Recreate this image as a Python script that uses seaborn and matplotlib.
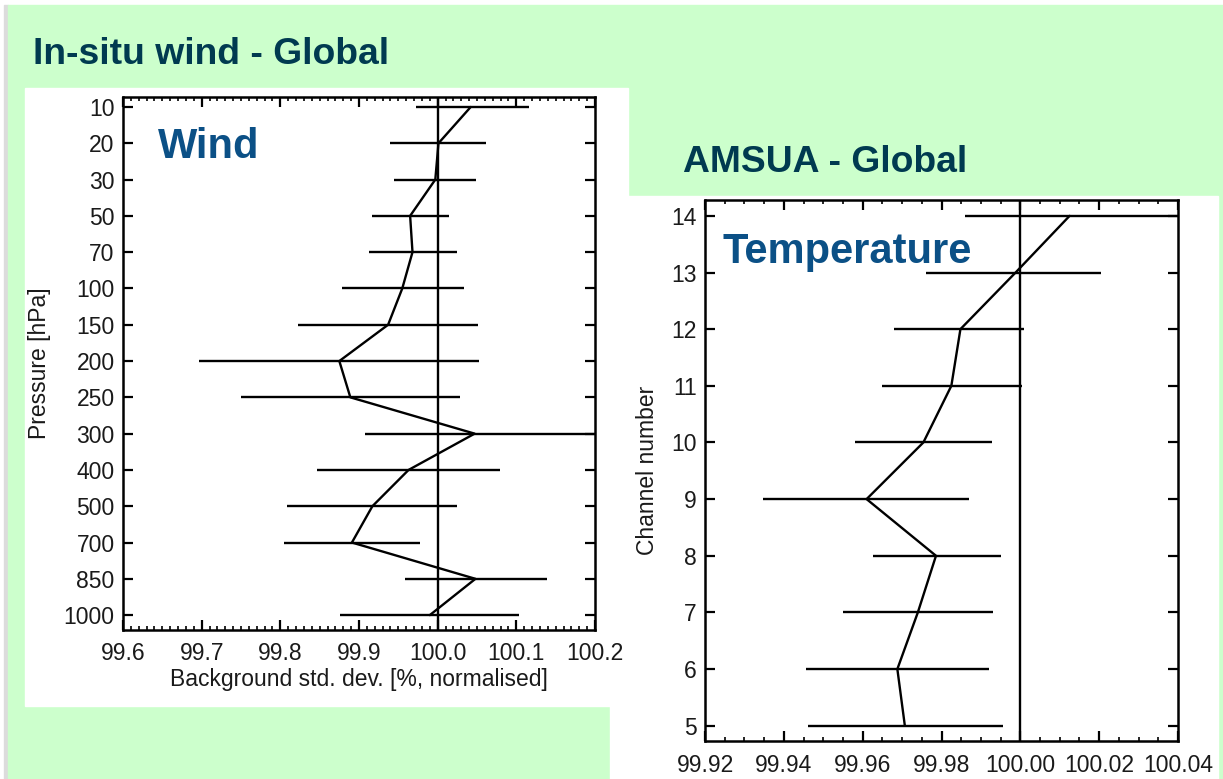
import numpy as np
import matplotlib
matplotlib.use("Agg")
import matplotlib.pyplot as plt
import seaborn as sns
from matplotlib.patches import Rectangle
from matplotlib.ticker import MultipleLocator, FormatStrFormatter

# In-situ wind: pressure levels, normalised std dev and error bar ends
niveles = ["10", "20", "30", "50", "70", "100", "150", "200", "250",
           "300", "400", "500", "700", "850", "1000"]
viento = [100.042, 100.001, 99.997, 99.965, 99.968, 99.955, 99.937, 99.875,
          99.889, 100.047, 99.963, 99.917, 99.891, 100.048, 99.990]
viento_min = [99.972, 99.940, 99.945, 99.916, 99.913, 99.879, 99.823, 99.697,
              99.750, 99.907, 99.847, 99.808, 99.805, 99.959, 99.876]
viento_max = [100.116, 100.062, 100.049, 100.014, 100.024, 100.033, 100.051,
              100.052, 100.029, 100.210, 100.079, 100.024, 99.977, 100.139, 100.103]

# AMSU-A: channels, normalised std dev and error bar ends
canales = [5, 6, 7, 8, 9, 10, 11, 12, 13, 14]
temperatura = [99.9707, 99.9688, 99.9740, 99.9786, 99.9610, 99.9754,
               99.9825, 99.9848, 99.9988, 100.0125]
temp_min = [99.9461, 99.9455, 99.9550, 99.9627, 99.9346, 99.9580,
            99.9650, 99.9680, 99.9760, 99.9860]
temp_max = [99.9956, 99.9920, 99.9930, 99.9952, 99.9869, 99.9928,
            100.0003, 100.0010, 100.0205, 100.0450]

VERDE = "#ccffcc"
TITULO = "#003a50"
AZUL = "#0b5086"

sns.set_style("ticks")
plt.rcParams["font.family"] = ["Liberation Sans", "DejaVu Sans"]

W, H = 1223, 779
fig = plt.figure(figsize=(W / 100, H / 100), dpi=100)


def caja(x0, y0, x1, y1, color):
    # rectangle given in pixels from the top-left corner
    fig.patches.append(Rectangle((x0 / W, 1 - y1 / H), (x1 - x0) / W, (y1 - y0) / H,
                                 transform=fig.transFigure, color=color, zorder=-10))


caja(4, 5, 8, H, "#dcdcdc")
caja(8, 5, W, H, VERDE)
caja(25, 88, 628, 706, "white")
caja(610, 196, 1218, H, "white")

fig.text(33 / W, 1 - 64 / H, "In-situ wind - Global", fontsize=26.8,
         fontweight="bold", color=TITULO, va="baseline")
fig.text(683 / W, 1 - 172 / H, "AMSUA - Global", fontsize=26.8,
         fontweight="bold", color=TITULO, va="baseline")


def estilo(ax, menor):
    for s in ax.spines.values():
        s.set_linewidth(1.8)
        s.set_color("black")
    ax.tick_params(which="both", direction="in", top=True, right=True,
                   color="black", labelsize=16.5, labelcolor="#1a1a1a", pad=9)
    ax.tick_params(axis="y", pad=6)
    ax.tick_params(which="major", length=7.5, width=1.6)
    ax.tick_params(which="minor", length=3, width=1.2)
    ax.xaxis.set_minor_locator(MultipleLocator(menor))
    ax.tick_params(axis="y", which="minor", left=False, right=False)
    ax.set_facecolor("white")


# ---- Wind panel
ax1 = fig.add_axes([123 / W, 1 - 630 / H, 472 / W, 533 / H])
pos = np.arange(len(niveles))
ax1.axvline(100.0, color="black", lw=1.7, zorder=1)
ax1.hlines(pos, viento_min, viento_max, color="black", lw=1.7, zorder=2)
sns.lineplot(x=viento, y=pos, sort=False, orient="y", estimator=None,
             color="black", lw=1.7, ax=ax1, zorder=3)
ax1.set_xlim(99.6, 100.2)
ax1.set_ylim(len(niveles) - 1 + 0.41, -0.275)
ax1.set_yticks(pos)
ax1.set_yticklabels(niveles)
ax1.xaxis.set_major_locator(MultipleLocator(0.1))
ax1.xaxis.set_major_formatter(FormatStrFormatter("%.1f"))
estilo(ax1, 0.01)
ax1.set_xlabel("Background std. dev. [%, normalised]", fontsize=16.5,
               color="#1a1a1a", labelpad=2)
ax1.set_ylabel("Pressure [hPa]", fontsize=16.5, color="#1a1a1a", labelpad=9)
ax1.text(158 / W, 1 - 158 / H, "Wind", transform=fig.transFigure, fontsize=30,
         fontweight="bold", color=AZUL, va="baseline")

# ---- Temperature panel
ax2 = fig.add_axes([705 / W, 1 - 741 / H, 473 / W, 541 / H])
ax2.axvline(100.0, color="black", lw=1.7, zorder=1)
ax2.hlines(canales, temp_min, temp_max, color="black", lw=1.7, zorder=2)
sns.lineplot(x=temperatura, y=canales, sort=False, orient="y", estimator=None,
             color="black", lw=1.7, ax=ax2, zorder=3)
ax2.set_xlim(99.92, 100.04)
ax2.set_ylim(4.73, 14.28)
ax2.set_yticks(canales)
ax2.xaxis.set_major_locator(MultipleLocator(0.02))
ax2.xaxis.set_major_formatter(FormatStrFormatter("%.2f"))
estilo(ax2, 0.005)
ax2.set_xlabel("Background std. dev. [%, normalised]", fontsize=16.5,
               color="#1a1a1a", labelpad=2)
ax2.set_ylabel("Channel number", fontsize=16.5, color="#1a1a1a", labelpad=9)
ax2.text(722 / W, 1 - 263 / H, "Temperature", transform=fig.transFigure,
         fontsize=30, fontweight="bold", color=AZUL, va="baseline")

fig.savefig("out.png", dpi=100)
